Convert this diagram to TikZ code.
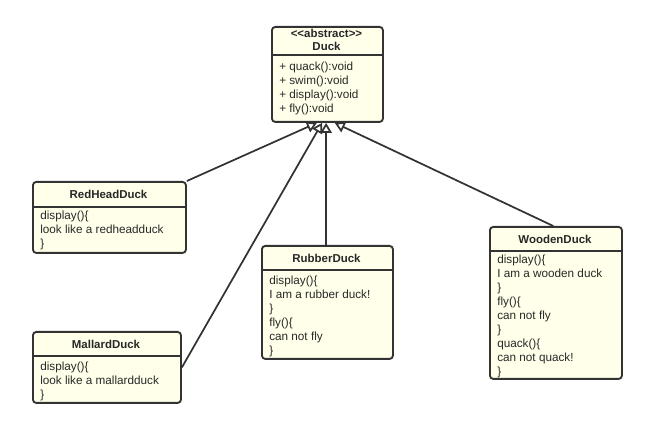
\documentclass[tikz,border=0pt]{standalone}
\usepackage{fontspec}
\setmainfont{Liberation Sans}
\usetikzlibrary{calc,arrows.meta,positioning}
\definecolor{classfill}{RGB}{255,255,234}
\definecolor{classedge}{RGB}{51,51,51}
\definecolor{classtext}{RGB}{40,40,40}

\begin{document}
\begin{tikzpicture}[
    x=0.75pt, y=-0.75pt,
    >={Triangle[open,length=7.5pt,width=8.5pt,fill=white]},
    classbox/.style={draw=classedge, fill=classfill, line width=1.4pt,
      rounded corners=2.5pt, anchor=north west, inner sep=0pt},
    classname/.style={font=\bfseries\fontsize{8.6}{10.5}\selectfont,
      text=classtext, inner sep=0pt},
    members/.style={font=\fontsize{8.8}{10.5}\selectfont, text=classtext,
      align=left, anchor=north west, inner sep=0pt},
    sep/.style={draw=classedge, line width=1.2pt},
    inherit/.style={->, draw=classedge, line width=1.3pt},
  ]
  \useasboundingbox (0,0) rectangle (658,431);

  % Abstract class
  \node[classbox, minimum width=83.25pt, minimum height=71.25pt] (duck) at (271,26) {};
  \draw[sep] ($(duck.north west)+(0,29)$) -- ($(duck.north east)+(0,29)$);
  \node[classname] (duckstereo) at (326.5,33) {\mbox{<}\mbox{<}abstract\mbox{>}\mbox{>}};
  \node[classname] (duckname) at (326.5,46) {Duck};
  \node[members] (duckbody) at (279,61.5)
    {+ quack():void\\+ swim():void\\+ display():void\\+ fly():void};

  % Subclasses
  \node[classbox, minimum width=114.75pt, minimum height=53.25pt] (redhead) at (32,181) {};
  \draw[sep] ($(redhead.north west)+(0,26)$) -- ($(redhead.north east)+(0,26)$);
  \node[classname] (redheadname) at (108.5,194) {RedHeadDuck};
  \node[members] (redheadbody) at (40,210.5)
    {display()\{\\look like a redheadduck\\\}};

  \node[classbox, minimum width=111pt, minimum height=53.25pt] (mallard) at (32,331) {};
  \draw[sep] ($(mallard.north west)+(0,25)$) -- ($(mallard.north east)+(0,25)$);
  \node[classname] (mallardname) at (106,344) {MallardDuck};
  \node[members] (mallardbody) at (40,361.5)
    {display()\{\\look like a mallardduck\\\}};

  \node[classbox, minimum width=98.25pt, minimum height=84.75pt] (rubber) at (261,245) {};
  \draw[sep] ($(rubber.north west)+(0,25)$) -- ($(rubber.north east)+(0,25)$);
  \node[classname] (rubbername) at (326.5,258) {RubberDuck};
  \node[members] (rubberbody) at (269,275.5)
    {display()\{\\I am a rubber duck!\\\}\\fly()\{\\can not fly\\\}};

  \node[classbox, minimum width=99pt, minimum height=114pt] (wooden) at (489,226) {};
  \draw[sep] ($(wooden.north west)+(0,25)$) -- ($(wooden.north east)+(0,25)$);
  \node[classname] (woodenname) at (555,239) {WoodenDuck};
  \node[members] (woodenbody) at (497,254.5)
    {display()\{\\I am a wooden duck\\\}\\fly()\{\\can not fly\\\}\\quack()\{\\can not quack!\\\}};

  % Generalisation
  \draw[inherit] (redhead.north east) -- ([xshift=-7.9pt]duck.south);
  \draw[inherit] (mallard.east) -- ([xshift=-4pt]duck.south);
  \draw[inherit] ([xshift=-1pt]rubber.north) -- ([xshift=-1pt]duck.south);
  \draw[inherit] ([xshift=-2pt]wooden.north) -- ([xshift=5.5pt]duck.south);
\end{tikzpicture}
\end{document}
